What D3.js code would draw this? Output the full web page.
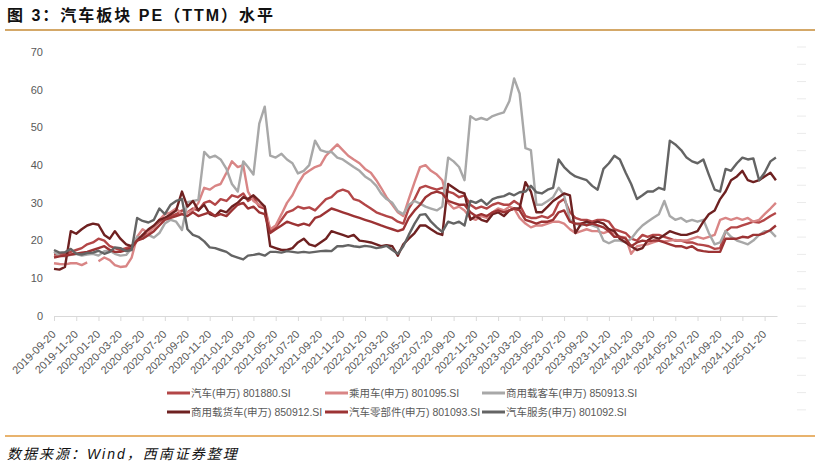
<!DOCTYPE html>
<html><head><meta charset="utf-8">
<script src="https://cdn.jsdelivr.net/npm/d3@7"></script>
<style>body{margin:0;background:#fff}svg{display:block}</style>
</head><body><svg id="c" width="821" height="467"></svg>
<script>
// ---------- data ----------
const titleText = "图 3：汽车板块 PE（TTM）水平";
const sourceText = "数据来源：Wind，西南证券整理";
const firstDate = "2019-09-20";   // half-monthly observations (20th / 5th)
const pointCount = 131;
const axisEndDate = "2025-02-23";
const xTickLabels = ["2019-09-20","2019-11-20","2020-01-20","2020-03-20","2020-05-20","2020-07-20","2020-09-20","2020-11-20","2021-01-20","2021-03-20","2021-05-20","2021-07-20","2021-09-20","2021-11-20","2022-01-20","2022-03-20","2022-05-20","2022-07-20","2022-09-20","2022-11-20","2023-01-20","2023-03-20","2023-05-20","2023-07-20","2023-09-20","2023-11-20","2024-01-20","2024-03-20","2024-05-20","2024-07-20","2024-09-20","2024-11-20","2025-01-20"];
const yTicks = [0,10,20,30,40,50,60,70];
const seriesNames = ["汽车(申万) 801880.SI","乘用车(申万) 801095.SI","商用载客车(申万) 850913.SI","商用载货车(申万) 850912.SI","汽车零部件(申万) 801093.SI","汽车服务(申万) 801092.SI"];
const seriesColors = ["#b34647","#d98585","#a8a8a8","#6e2121","#9c3334","#646464"];

const peAuto = [16.3,16.3,16.5,17.0,17.5,18.0,19.0,19.5,20.5,20.0,
 18.5,18.0,17.5,18.0,18.5,20.5,21.0,22.5,23.5,25.0,
 26.0,26.5,27.0,28.0,27.5,28.5,28.0,30.0,30.5,29.5,
 31.0,30.5,32.0,31.5,32.5,30.5,31.5,29.0,28.5,22.5,
 23.5,25.5,27.5,28.0,29.0,28.5,28.8,28.0,29.5,31.0,
 31.5,33.0,33.5,33.0,31.0,30.5,29.5,28.5,27.5,27.0,
 26.5,26.0,25.0,24.5,28.5,31.0,34.0,34.5,34.0,33.5,
 34.0,33.0,32.5,31.5,32.0,29.5,28.5,29.0,28.5,29.5,
 30.0,29.5,29.5,30.5,29.5,26.5,26.0,26.0,26.5,26.0,
 27.0,30.0,31.0,27.5,26.0,25.5,25.5,25.0,25.5,25.5,
 25.0,23.0,22.5,22.0,20.5,20.0,21.5,21.0,21.5,21.5,
 21.0,20.5,20.0,20.0,19.5,19.5,19.0,18.8,18.5,17.8,
 18.0,22.5,23.5,23.5,24.0,24.5,25.0,24.8,25.5,26.5,27.3];
const pePassenger = [14.0,13.8,13.7,14.0,14.0,13.5,14.2,null,14.5,15.5,
 14.8,13.5,13.0,13.2,15.5,21.0,23.0,22.0,23.5,25.5,
 27.0,27.5,28.5,27.0,27.5,28.0,30.0,34.0,33.5,34.5,
 35.0,38.0,41.0,39.5,40.0,33.0,30.5,29.5,29.0,23.0,
 24.0,27.0,30.0,32.0,35.0,37.5,38.5,39.5,40.0,42.5,
 44.0,45.5,44.0,42.5,41.5,40.5,39.0,38.0,36.0,34.0,
 31.5,29.5,27.5,26.5,31.0,35.5,39.5,40.0,38.5,37.5,
 36.0,30.0,28.5,29.0,28.0,26.0,25.5,26.5,26.0,27.5,
 28.5,28.0,29.0,28.5,26.0,24.5,23.5,24.0,24.0,24.5,
 25.0,25.0,24.5,23.0,22.0,22.5,23.0,22.5,22.5,22.0,
 22.5,22.0,21.0,20.8,16.5,18.5,18.8,19.0,19.5,20.0,
 19.8,20.0,20.2,20.0,20.0,20.5,21.0,20.5,21.0,21.5,
 25.5,26.0,25.5,26.0,25.5,26.0,25.0,25.5,27.0,28.5,30.0];
const peBus = [17.0,16.0,15.8,16.2,16.5,16.0,16.3,16.5,16.0,17.2,
 17.3,16.5,16.0,16.2,18.0,21.0,20.5,21.5,20.8,22.0,
 24.5,25.5,25.0,22.8,30.2,30.5,30.8,43.5,42.0,42.5,
 41.5,39.0,35.0,33.0,41.0,39.5,37.5,51.0,55.5,42.5,
 42.0,43.0,41.5,40.5,37.8,38.5,40.0,46.5,44.0,43.5,
 43.5,42.0,41.5,40.5,39.5,38.5,37.0,36.0,34.5,32.5,
 31.0,30.0,27.8,27.0,29.5,30.5,29.8,29.0,28.5,28.0,
 29.0,42.0,41.0,39.5,36.0,53.0,52.0,52.5,52.0,53.0,
 53.5,54.0,57.0,63.0,59.0,44.5,44.0,29.5,29.5,30.5,
 31.5,34.0,32.0,25.5,24.5,24.0,24.5,24.0,23.5,20.0,
 19.3,20.0,20.0,19.5,20.5,22.5,24.0,25.0,26.0,27.0,
 30.5,26.5,25.5,26.0,25.0,25.5,25.0,25.5,22.0,19.0,
 19.5,22.5,21.0,20.0,19.5,19.0,20.0,21.5,22.5,22.5,21.0];
const peTruck = [12.5,12.3,13.0,22.5,21.8,23.0,24.0,24.5,24.2,21.5,
 20.5,22.5,20.5,19.0,18.5,20.0,21.5,23.0,24.0,25.5,
 26.0,27.0,28.0,33.0,29.0,30.5,28.0,29.5,27.0,26.5,
 28.0,27.5,29.0,30.0,31.5,31.0,32.0,30.5,29.0,18.5,
 18.0,17.5,17.5,18.0,19.5,20.5,19.0,18.5,19.5,20.5,
 22.5,22.0,21.5,21.0,21.5,20.0,19.8,19.5,19.0,18.5,
 18.8,18.5,16.0,19.0,20.5,22.0,24.0,24.0,23.0,22.0,
 21.5,35.0,34.0,33.0,32.5,25.5,26.5,25.5,25.0,27.0,
 27.5,26.5,28.0,28.5,28.5,35.5,33.0,27.5,27.5,29.0,
 30.5,31.5,32.5,32.0,22.0,24.5,25.0,24.5,25.0,24.5,
 23.0,22.5,20.5,19.5,18.5,17.5,18.0,20.0,21.0,20.5,
 21.5,22.5,22.0,21.5,21.5,22.0,22.5,25.0,27.0,28.0,
 31.0,33.0,36.0,37.0,38.5,36.0,35.5,36.0,37.0,38.0,36.0];
const peParts = [15.5,15.8,16.0,16.3,16.5,16.8,17.0,17.5,18.0,18.5,
 17.5,17.0,17.0,17.5,18.0,20.0,20.5,21.5,22.5,24.0,
 25.5,26.0,26.5,27.0,26.5,27.5,26.5,27.0,27.5,26.5,
 27.0,26.5,28.0,29.5,30.0,28.5,29.0,27.5,27.0,22.0,
 23.0,24.0,25.0,24.5,24.0,24.5,24.0,26.0,26.5,27.5,
 28.5,28.0,27.5,27.0,26.5,26.0,25.5,25.0,24.5,24.0,
 23.5,23.0,22.5,23.0,26.0,28.0,29.5,31.5,32.5,33.0,
 32.5,30.5,30.0,29.5,29.5,27.5,26.5,27.0,26.5,27.5,
 28.0,27.5,28.0,28.5,28.0,25.5,25.0,24.5,25.0,25.0,
 25.5,27.5,28.0,25.0,24.5,24.5,24.0,24.5,24.0,23.5,
 22.5,21.0,21.0,20.5,18.5,19.5,20.0,19.8,20.0,20.0,
 19.5,19.0,18.5,18.5,18.0,18.5,17.5,17.2,17.0,17.0,
 17.0,20.5,20.5,20.5,21.0,20.8,21.5,21.5,22.0,22.8,24.0];
const peService = [17.5,16.8,16.9,17.8,16.5,16.3,16.7,16.8,17.3,16.5,
 17.0,18.2,18.0,17.2,17.5,26.0,25.2,24.8,25.5,28.5,
 27.0,29.5,30.5,31.0,23.0,21.5,21.0,19.8,18.2,18.0,
 17.5,17.0,16.0,15.5,15.0,16.0,16.2,16.5,16.0,17.0,
 17.0,16.8,17.2,17.0,16.8,17.0,16.8,17.0,17.2,17.3,
 17.2,18.5,18.5,18.8,18.5,18.3,18.6,18.4,18.0,18.2,
 18.6,17.5,16.5,18.5,21.5,24.5,26.8,27.0,25.0,23.5,
 22.3,25.0,24.5,25.0,24.0,30.5,30.0,30.8,29.5,31.0,
 31.5,31.8,32.5,32.0,32.8,33.0,34.5,32.8,32.5,33.5,
 34.0,41.5,39.5,38.0,37.0,36.5,36.0,34.5,33.5,39.0,
 40.5,42.5,41.5,38.0,35.0,31.0,32.0,33.0,33.0,34.0,
 33.5,46.5,45.5,44.0,42.0,41.0,40.5,41.5,37.5,33.5,
 33.0,39.0,38.5,40.5,42.0,41.5,41.8,36.0,38.0,41.0,42.0];
const seriesValues = [peAuto, pePassenger, peBus, peTruck, peParts, peService];

// ---------- layout ----------
const svg = d3.select("#c");
const FONT = "'Liberation Sans', Arial, 'Noto Sans CJK SC', sans-serif";
const parse = d3.timeParse("%Y-%m-%d");
const fmt = d3.timeFormat("%Y-%m-%d");
const d0 = parse(firstDate);
const dates = d3.range(pointCount).map(i => i % 2 === 0
  ? d3.timeMonth.offset(d0, i / 2)
  : d3.timeMonth.offset(new Date(d0.getFullYear(), d0.getMonth(), 5), (i + 1) / 2));

const x = d3.scaleTime().domain([d0, parse(axisEndDate)]).range([54, 777]);
const y = d3.scaleLinear().domain([0, 70]).range([316, 52]);

// title
svg.append("text").attr("x", 7).attr("y", 21)
  .attr("font-family", "'Liberation Sans', 'Noto Sans CJK SC', sans-serif")
  .attr("font-weight", "bold").attr("font-size", 16).attr("letter-spacing", 2)
  .attr("fill", "#111").text(titleText);
svg.append("line").attr("x1", 5).attr("x2", 815).attr("y1", 30).attr("y2", 30)
  .attr("stroke", "#d4a868").attr("stroke-width", 2);

// right-side faint marks
svg.append("g").selectAll("line").data(d3.range(22)).join("line")
  .attr("x1", 797).attr("x2", 806)
  .attr("y1", k => 47 + k * 17.28).attr("y2", k => 47 + k * 17.28)
  .attr("stroke", "#ebebeb").attr("stroke-width", 1);

// y labels
svg.append("g").selectAll("text").data(yTicks).join("text")
  .attr("x", 43).attr("y", d => y(d)).attr("dy", "0.35em")
  .attr("text-anchor", "end").attr("font-family", FONT).attr("font-size", 11)
  .attr("fill", "#595959").text(d => d);

// x axis
const xAxis = d3.axisBottom(x).tickValues(xTickLabels.map(parse))
  .tickFormat(fmt).tickSize(5).tickSizeOuter(0);
const gx = svg.append("g").attr("transform", "translate(0,316)").call(xAxis);
gx.select(".domain").attr("stroke", "#d9d9d9");
gx.selectAll(".tick line").attr("stroke", "#d9d9d9");
gx.selectAll(".tick text")
  .attr("font-family", FONT).attr("font-size", 11).attr("fill", "#595959")
  .attr("text-anchor", "end").attr("dy", null).attr("y", null).attr("x", null)
  .attr("transform", "translate(2,19) rotate(-45)");

// lines
const line = d3.line().defined(d => d.v != null)
  .x(d => x(d.date)).y(d => y(d.v));
seriesValues.forEach((vals, k) => {
  svg.append("path")
    .datum(vals.map((v, i) => ({ date: dates[i], v })))
    .attr("fill", "none").attr("stroke", seriesColors[k])
    .attr("stroke-width", 2.4).attr("stroke-linejoin", "round")
    .attr("d", line);
});

// legend
const legendPos = [[167, 393], [325, 393], [482, 393], [167, 412], [325, 412], [482, 412]];
const lg = svg.append("g");
seriesNames.forEach((name, k) => {
  const [lx, ly] = legendPos[k];
  lg.append("line").attr("x1", lx).attr("x2", lx + 23).attr("y1", ly).attr("y2", ly)
    .attr("stroke", seriesColors[k]).attr("stroke-width", 3);
  lg.append("text").attr("x", lx + 24).attr("y", ly).attr("dy", "0.35em")
    .attr("font-family", FONT).attr("font-size", 10.5).attr("fill", "#595959").text(name);
});

// bottom rule + source
svg.append("line").attr("x1", 5).attr("x2", 815).attr("y1", 436).attr("y2", 436)
  .attr("stroke", "#e09a3e").attr("stroke-width", 1.5);
svg.append("text").attr("x", 7).attr("y", 459)
  .attr("font-family", "'Liberation Sans', 'Noto Sans CJK SC', sans-serif")
  .attr("font-style", "italic").attr("font-size", 14).attr("letter-spacing", 2)
  .attr("fill", "#111").text(sourceText);
</script></body></html>
